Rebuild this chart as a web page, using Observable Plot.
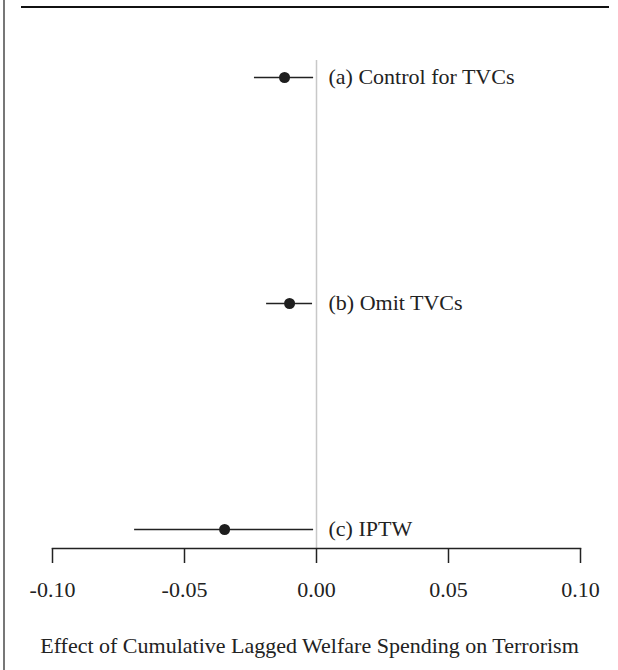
<!DOCTYPE html>
<html>
<head>
<meta charset="utf-8">
<script src="https://cdn.jsdelivr.net/npm/d3@7"></script>
<script src="https://cdn.jsdelivr.net/npm/@observablehq/plot@0.6"></script>
<style>
  html, body { margin: 0; padding: 0; background: #fff; }
  #wrap { position: relative; width: 618px; height: 670px; overflow: hidden; }
  #leftline { position: absolute; left: 3px; top: 0; width: 2px; height: 670px; background: #777; }
  #topline { position: absolute; left: 21px; top: 6px; width: 588px; height: 2px; background: #111; }
  #chart { position: absolute; left: 0; top: 0; }
</style>
</head>
<body>
<div id="wrap">
  <div id="leftline"></div>
  <div id="topline"></div>
  <div id="chart"></div>
</div>
<script>
const models = ["(a) Control for TVCs", "(b) Omit TVCs", "(c) IPTW"];
const estimates = [-0.0121, -0.0102, -0.0348];
const lower = [-0.0235, -0.0189, -0.0689];
const upper = [-0.0011, -0.0015, -0.0011];
const xTicks = [-0.10, -0.05, 0.00, 0.05, 0.10];
const xTitle = "Effect of Cumulative Lagged Welfare Spending on Terrorism";

const rows = models.map((m, i) => ({model: m, est: estimates[i], lo: lower[i], hi: upper[i]}));

const chart = Plot.plot({
  width: 618,
  height: 670,
  marginLeft: 52,
  marginRight: 38,
  marginTop: 60,
  marginBottom: 122,
  style: {fontFamily: "'Liberation Serif', serif", fontSize: "22px", color: "#222", background: "transparent"},
  x: {domain: [-0.1, 0.1], ticks: xTicks, tickFormat: d => d.toFixed(2)},
  y: {domain: models, type: "point", padding: 0, insetTop: 16, insetBottom: 19, axis: null},
  marks: [
    Plot.ruleX([0], {stroke: "#c8c8c8", strokeWidth: 1.5}),
    Plot.frame({anchor: "bottom", stroke: "#222", strokeWidth: 1.5}),
    Plot.axisX({ticks: xTicks, tickFormat: d => d.toFixed(2), tickSize: 15, tickPadding: 18, fontSize: 22, stroke: "#222", strokeWidth: 1.5, label: null}),
    Plot.ruleY(rows, {y: "model", x1: "lo", x2: "hi", stroke: "#222", strokeWidth: 1.5}),
    Plot.dot(rows, {x: "est", y: "model", r: 5.5, fill: "#1e1e1e", stroke: "none"}),
    Plot.text(rows, {x: 0, y: "model", text: "model", dx: 12, dy: -1, textAnchor: "start", fontSize: 22, fill: "#222"}),
    Plot.text([xTitle], {frameAnchor: "bottom", dx: -7, dy: 104, fontSize: 22, fill: "#222"})
  ]
});
document.getElementById("chart").appendChild(chart);
</script>
</body>
</html>
